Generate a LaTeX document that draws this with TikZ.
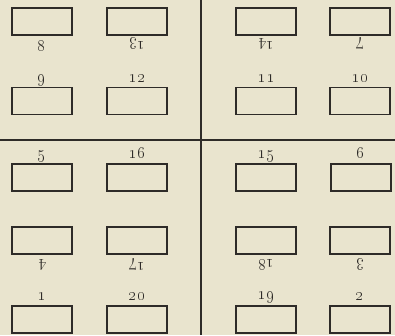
\documentclass[tikz,border=0pt]{standalone}
\definecolor{paper}{HTML}{E9E4CE}
\definecolor{ink}{HTML}{2E2B28}
\begin{document}
\begin{tikzpicture}[x=1pt,y=-1pt,
  seat/.style={draw=ink,line width=1.5pt,minimum width=60pt,minimum height=27pt,inner sep=0pt},
  num/.style={text=ink,font=\fontsize{19}{22}\selectfont,inner sep=0pt},
  divider/.style={draw=ink,line width=2.2pt}]
\fill[paper] (0,0) rectangle (395,335);
\useasboundingbox (0,0) rectangle (395,335);
% dividers
\draw[divider] (0,140) -- (395,140);
\draw[divider] (201,0) -- (201,335);
% row 1
\node[seat] (b8) at (42,21.5) {};
\node[seat] (b13) at (137,21.5) {};
\node[seat] (b14) at (266,21.5) {};
\node[seat] (b7) at (360,21.5) {};
\node[num] (l8) at (42,46) {\oldstylenums{8}};
\node[num,rotate=180] (l13) at (137,44) {\oldstylenums{13}};
\node[num,rotate=180] (l14) at (266,44) {\oldstylenums{14}};
\node[num,rotate=180] (l7) at (360,44) {\oldstylenums{7}};
% row 2
\node[seat] (b9) at (42,101) {};
\node[seat] (b12) at (137,101) {};
\node[seat] (b11) at (266,101) {};
\node[seat] (b10) at (360,101) {};
\node[num] (l9) at (42,80) {\oldstylenums{9}};
\node[num] (l12) at (137,79) {\oldstylenums{12}};
\node[num] (l11) at (266,79) {\oldstylenums{11}};
\node[num] (l10) at (360,79) {\oldstylenums{10}};
% row 3
\node[seat] (b5) at (42,177.5) {};
\node[seat] (b16) at (137,177.5) {};
\node[seat] (b15) at (266,177.5) {};
\node[seat] (b6) at (361,177.5) {};
\node[num] (l5) at (42,156) {\oldstylenums{5}};
\node[num] (l16) at (137,153) {\oldstylenums{16}};
\node[num] (l15) at (266,156) {\oldstylenums{15}};
\node[num] (l6) at (361,153) {\oldstylenums{6}};
% row 4
\node[seat] (b4) at (42,240.5) {};
\node[seat] (b17) at (137,240.5) {};
\node[seat] (b18) at (266,240.5) {};
\node[seat] (b3) at (360,240.5) {};
\node[num,rotate=180] (l4) at (42,265) {\oldstylenums{4}};
\node[num,rotate=180] (l17) at (137,265) {\oldstylenums{17}};
\node[num,rotate=180] (l18) at (266,265) {\oldstylenums{18}};
\node[num,rotate=180] (l3) at (360,265) {\oldstylenums{3}};
% row 5
\node[seat] (b1) at (42,319.5) {};
\node[seat] (b20) at (137,319.5) {};
\node[seat] (b19) at (266,319.5) {};
\node[seat] (b2) at (360,319.5) {};
\node[num] (l1) at (42,297) {\oldstylenums{1}};
\node[num] (l20) at (137,297) {\oldstylenums{20}};
\node[num] (l19) at (266,297) {\oldstylenums{19}};
\node[num] (l2) at (360,297) {\oldstylenums{2}};
\end{tikzpicture}
\end{document}
